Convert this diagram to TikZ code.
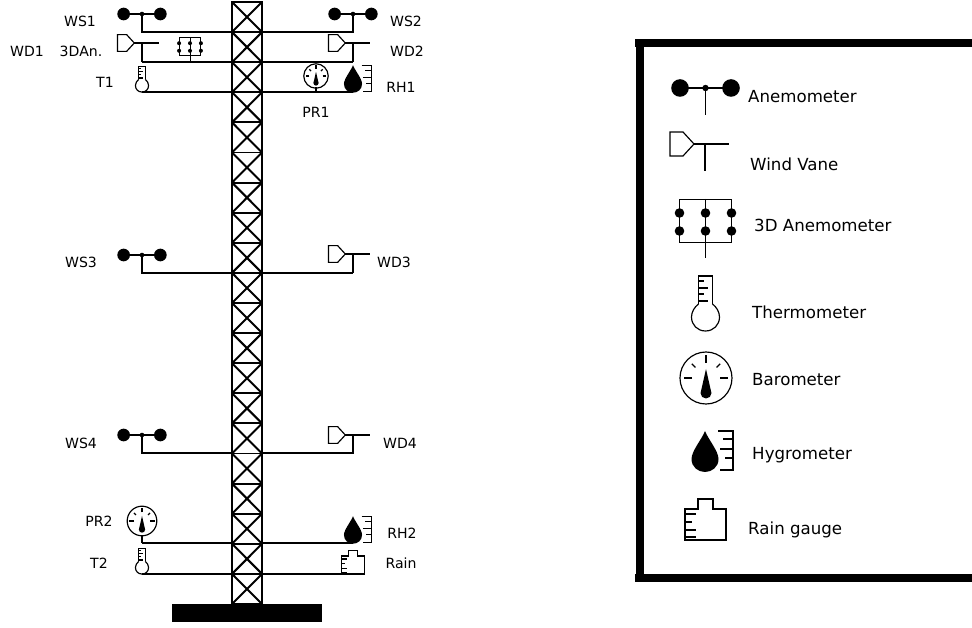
\documentclass[tikz,border=0pt]{standalone}
\usepackage{fontspec}
\setmainfont{DejaVu Sans}
\tikzset{
  lbl/.style={font=\fontsize{12}{14}\selectfont, inner sep=0pt},
  keytext/.style={font=\fontsize{14.2}{16}\selectfont, inner sep=0pt, anchor=base west},
  arm/.style={line width=1.5pt},
  panel/.style={line width=1.7pt},
  sens/.style={line width=1pt},
  anemometer/.pic={
    \fill (-25.5,0) circle (8.8) (25.5,0) circle (8.8) (0,0) circle (3.2);
    \draw[line width=1.4pt] (-25.5,0) -- (25.5,0) (0,0) -- (0,27);
  },
  vane/.pic={
    \draw[sens] (-35,-12) -- (-22,-12) -- (-11,0) -- (-22,12) -- (-35,12) -- cycle;
    \draw[sens] (-11,0) -- (24,0) (0,0) -- (0,27);
  },
  anemo3d/.pic={
    \draw[line width=0.8pt] (-26,20) |- (26,-23) -- (26,20) -- cycle (0,-23) -- (0,36);
    \foreach \dx in {-26,0,26}
      \foreach \dy in {-9,9}
        \fill (\dx,\dy) circle (4.8);
  },
  thermo/.pic={
    \draw[sens] (-7,-13) -- (-7,-41) -- (7,-41) -- (7,-13);
    \draw[sens] (-7,-13) .. controls (-11,-10) and (-14,-5) .. (-14,0) .. controls (-14,8) and (-8,14) .. (0,14)
      .. controls (8,14) and (14,8) .. (14,0) .. controls (14,-5) and (11,-10) .. (7,-13);
    \foreach \ty/\tl in {-36/5,-29/9,-23/5,-16/9}
      \draw[sens] (-7,\ty) -- ++(\tl,0);
  },
  baro/.pic={
    \draw[sens] (0,0) circle (26);
    \foreach \ang/\ra/\rb in {0/14/22,-45/15/20,-90/15/23,-135/15/20,-180/14/22}
      \draw[sens] (\ang:\ra) -- (\ang:\rb);
    \fill (0,15) circle (5.5);
    \fill (-5.2,14) -- (0,-9) -- (5.2,14) -- cycle;
  },
  hygro/.pic={
    \fill (0,-28) .. controls (-3,-20) and (-13.5,-8) .. (-13.5,0) .. controls (-13.5,8) and (-7,13) .. (0,13)
      .. controls (7,13) and (13.5,8) .. (13.5,0) .. controls (13.5,-8) and (3,-20) .. (0,-28) -- cycle;
    \draw[sens] (13,-28) -| (28,11) -- (15,11);
    \draw[sens] (28,-20) -- (18,-20) (28,-10) -- (15,-10) (28,-1) -- (20,-1);
  },
  raingauge/.pic={
    \draw[sens] (-20.5,0) |- (-7.5,-31) |- (7.5,-41) |- (20.5,-31) |- cycle;
    \foreach \ty/\tl in {-26/11,-18/7,-10/11,-3/11}
      \draw[sens] (-20.5,\ty) -- ++(\tl,0);
  },
}
\begin{document}
\begin{tikzpicture}[x=0.03cm, y=-0.03cm]
\useasboundingbox (0,0) rectangle (972,628);
% --- tower ---
\foreach \k in {0,...,19} {
  \pgfmathsetmacro{\ytop}{2+30.1*\k}
  \pgfmathsetmacro{\ybot}{2+30.1*(\k+1)}
  \draw[panel] (232,\ytop) rectangle (262,\ybot);
  \draw[panel] (232,\ytop) -- (262,\ybot) (262,\ytop) -- (232,\ybot);
}
\fill (172,604) rectangle (322,622);
% --- left arms ---
\coordinate (lws1) at (142,32);
\coordinate (lwd1) at (142,62);
\coordinate (lt1) at (142,92);
\coordinate (lws3) at (142,273);
\coordinate (lws4) at (142,453);
\coordinate (lpr2) at (142,543);
\coordinate (lt2) at (142,574);
\foreach \c in {lws1,lwd1,lt1,lws3,lws4,lpr2,lt2}
  \draw[arm] (\c) -- (\c -| 232,0);
% --- right arms ---
\coordinate (rws2) at (353,32);
\coordinate (rwd2) at (353,62);
\coordinate (rh1) at (353,92);
\coordinate (rwd3) at (353,273);
\coordinate (rwd4) at (353,453);
\coordinate (rh2) at (353,543);
\coordinate (rrain) at (353,574);
\foreach \c in {rws2,rwd2,rh1,rwd3,rwd4,rh2,rrain}
  \draw[arm] (262,0 |- \c) -- (\c);
% --- sensors on the tower ---
\pic[scale=0.72] at (142,14) {anemometer};
\pic[scale=0.72] at (353,14) {anemometer};
\pic[scale=0.72] at (142,255) {anemometer};
\pic[scale=0.72] at (142,435) {anemometer};
\pic[scale=0.7] at (142,43) {vane};
\pic[scale=0.7] at (353,43) {vane};
\pic[scale=0.7] at (353,254) {vane};
\pic[scale=0.7] at (353,435) {vane};
\pic[scale=0.42] at (190,47) {anemo3d};
\pic[scale=0.47] at (142,85.5) {thermo};
\pic[scale=0.47] at (142,567.5) {thermo};
\pic[scale=0.47] at (316,76) {baro};
\coordinate (bpr1) at (316,92);
\draw[sens] (bpr1) -- ++(0,-5);
\pic[scale=0.57] at (142,521) {baro};
\draw[sens] (lpr2) -- ++(0,-8);
\pic[scale=0.67] at (353,84) {hygro};
\pic[scale=0.67] at (353,535) {hygro};
\pic[scale=0.58] at (353,574) {raingauge};
% --- tower labels ---
\node[lbl] (ws1) at (80,21) {WS1};
\node[lbl] (wd1) at (27,51) {WD1};
\node[lbl] (an1) at (81,51) {3DAn.};
\node[lbl] (t1) at (105,82) {T1};
\node[lbl] (ws2) at (406,21) {WS2};
\node[lbl] (wd2) at (407,51) {WD2};
\node[lbl] (rh1t) at (401,87) {RH1};
\node[lbl] (pr1) at (316,112) {PR1};
\node[lbl] (ws3) at (81,262) {WS3};
\node[lbl] (wd3) at (394,262) {WD3};
\node[lbl] (ws4) at (81,443) {WS4};
\node[lbl] (wd4) at (400,443) {WD4};
\node[lbl] (pr2) at (99,521) {PR2};
\node[lbl] (t2) at (99,563) {T2};
\node[lbl] (rh2t) at (402,533) {RH2};
\node[lbl] (rain) at (401,563) {Rain};
% --- legend ---
\fill (635,39) rectangle (972,47);
\fill (635,574) rectangle (972,582);
\fill (636,39) rectangle (644,582);
\pic at (705.5,88) {anemometer};
\pic at (705,144) {vane};
\pic at (705.5,222) {anemo3d};
\pic at (705.5,317) {thermo};
\pic at (706,378) {baro};
\pic at (705,459) {hygro};
\pic at (705.5,540) {raingauge};
\node[keytext] (k1) at (748,103) {Anemometer};
\node[keytext] (k2) at (750,171) {Wind Vane};
\node[keytext] (k3) at (754,232) {3D Anemometer};
\node[keytext] (k4) at (752,319) {Thermometer};
\node[keytext] (k5) at (752,386) {Barometer};
\node[keytext] (k6) at (752,460) {Hygrometer};
\node[keytext] (k7) at (748,534) {Rain gauge};
\end{tikzpicture}
\end{document}
